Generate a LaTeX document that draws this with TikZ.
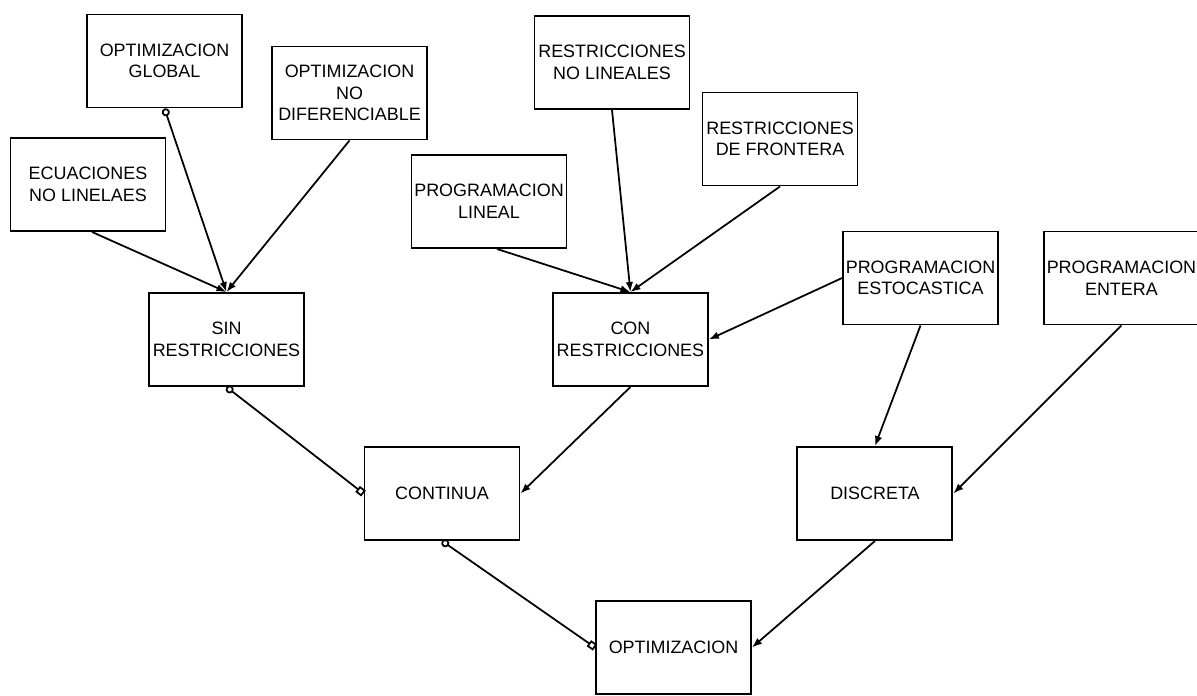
\documentclass[tikz,border=0pt]{standalone}
\usepackage{fontspec}
\setmainfont{Liberation Sans}
\usetikzlibrary{arrows.meta,positioning}

\begin{document}
\begin{tikzpicture}[
  node distance=5mm and 8mm,
  box/.style={draw, line width=1.1pt, align=center, inner xsep=0pt, inner ysep=2pt, minimum width=31mm, minimum height=18.6mm, font=\fontsize{10.2}{12.3}\selectfont},
  arr/.style={-{Latex[length=2mm,width=1.5mm]}, line width=1pt},
  circarr/.style={{Circle[open,length=1.6mm]}-{Latex[length=2mm,width=1.5mm]}, line width=1pt},
  link/.style={{Circle[open,length=1.6mm]}-{Square[open,length=1.5mm]}, line width=1pt}
]
\useasboundingbox (0,0) rectangle (23.94,-13.9);
\node[box] (glob) at (3.29,-1.22) {OPTIMIZACION\\GLOBAL};
\node[box] (nodif) at (6.99,-1.86) {OPTIMIZACION\\NO\\DIFERENCIABLE};
\node[box] (ecu) at (1.76,-3.69) {ECUACIONES\\NO LINELAES};
\node[box] (sin) at (4.53,-6.79) {SIN\\RESTRICCIONES};
\node[box] (nolin) at (12.24,-1.25) {RESTRICCIONES\\NO LINEALES};
\node[box] (front) at (15.6,-2.78) {RESTRICCIONES\\DE FRONTERA};
\node[box] (plin) at (9.78,-4.03) {PROGRAMACION\\LINEAL};
\node[box, right=4.94cm of sin] (con) {CON\\RESTRICCIONES};
\node[box] (esto) at (18.41,-5.56) {PROGRAMACION\\ESTOCASTICA};
\node[box, right=0.88cm of esto] (ent) {PROGRAMACION\\ENTERA};
\node[box] (cont) at (8.84,-9.87) {CONTINUA};
\node[box, right=5.52cm of cont] (disc) {DISCRETA};
\node[box] (opt) at (13.47,-12.95) {OPTIMIZACION};
\draw[circarr] (glob.south) -- (sin.north);
\draw[arr] ([xshift=0.8mm]ecu.south) -- (sin.north);
\draw[arr] (nodif.south) -- (sin.north);
\draw[arr] ([xshift=1.6mm]plin.south) -- (con.north);
\draw[arr] (nolin.south) -- (con.north);
\draw[arr] (front.south) -- (con.north);
\draw[arr] (esto.west) -- (con.east);
\draw[arr] (esto.south) -- (disc.north);
\draw[arr] (ent.south) -- (disc.east);
\draw[link] (sin.south) -- (cont.west);
\draw[arr] (con.south) -- (cont.east);
\draw[link] (cont.south) -- (opt.west);
\draw[arr] (disc.south) -- (opt.east);
\end{tikzpicture}
\end{document}
